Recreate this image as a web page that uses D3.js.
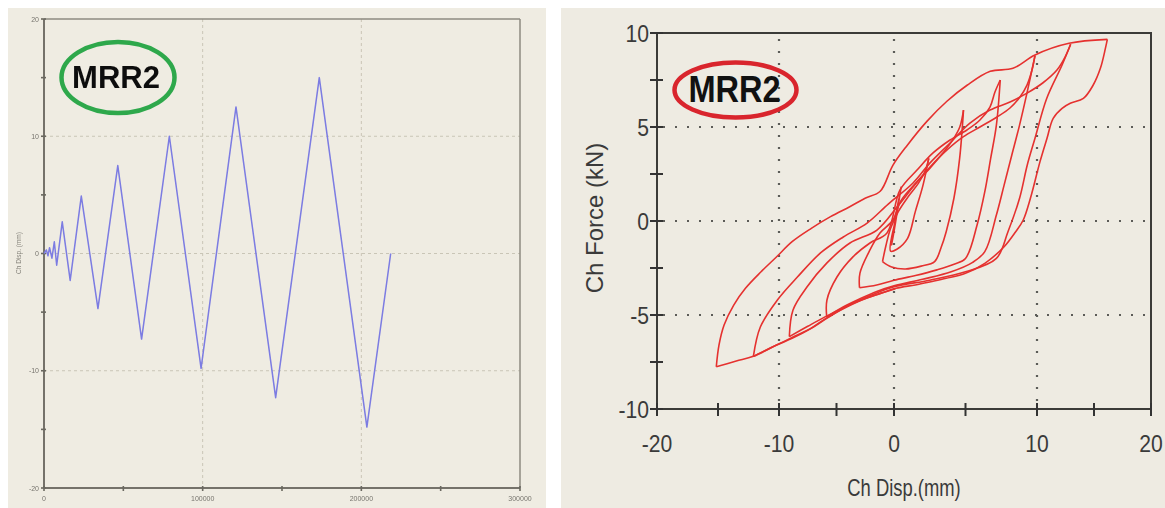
<!DOCTYPE html>
<html>
<head>
<meta charset="utf-8">
<script src="https://cdn.jsdelivr.net/npm/d3@7"></script>
<style>
  body { margin: 0; background: #ffffff; }
  svg { display: block; }
</style>
</head>
<body>
<svg id="chart" width="1165" height="508"></svg>
<script>
// ---------- Left panel: applied displacement history ----------
const historyTime = [0, 1500, 2500, 3500, 5000, 6500, 8000, 11500, 16500, 23500, 34000, 46500,
                     61500, 79000, 99000, 121000, 146000, 173500, 203500, 218500];
const historyDisp = [0, 0.3, -0.2, 0.5, -0.4, 1.0, -1.0, 2.7, -2.3, 4.9, -4.7, 7.5,
                     -7.3, 10.0, -9.8, 12.5, -12.3, 15.0, -14.8, 0];
const historyYTicks = [-20, -10, 0, 10, 20];
const historyYMinor = [-15, -5, 5, 15];
const historyXTicks = [0, 100000, 200000, 300000];
const historyXMinor = [50000, 150000, 250000];
const historyXGrid = [100000, 200000];
const historyYGrid = [-10, 0, 10];

// ---------- Right panel: force vs displacement loops (mm, kN) ----------
const forceXTicks = [-20, -10, 0, 10, 20];
const forceXMinor = [-15, -5, 5, 15];
const forceYTicks = [-10, -5, 0, 5, 10];
const forceYMinor = [-7.5, -2.5, 2.5, 7.5];
const forceXGrid = [-10, 0, 10];
const forceYGrid = [-5, 0, 5];

const branchL1 = [[0,0],[0.3,0.9],[-0.1,-0.6],[0.4,1.4],[0.1,0.2],[-0.2,-1.3],[0.5,1.8],[0.2,0.4],
                  [-0.3,-1.6],[0.2,-1.5],[0.95,-0.92],[1.49,0.5],[2.03,1.91],[2.43,3.33]];
const branchU1 = [[2.43,3.33],[2.2,2.7],[1.7,2.0],[1.0,1.3],[0.3,0.5],[-0.3,-0.4],[-0.7,-1.3],[-1.0,-2.16]];
const branchL2 = [[-1.0,-2.16],[-0.2,-2.45],[0.8,-2.55],[1.9,-2.4],[2.84,-2.16],[3.3,-1.4],[3.65,-0.57],
                  [4.19,1.21],[4.59,3.33],[4.86,5.9]];
const branchU2 = [[4.86,5.9],[4.6,5.0],[4.1,4.3],[3.4,3.6],[2.5,2.8],[1.5,2.0],[0.5,1.1],[-0.09,0.05],
                  [-1.22,-0.64],[-2.09,-1.54],[-2.96,-2.77],[-3.0,-3.55]];
const branchL3 = [[-3.0,-3.55],[-1.5,-3.4],[0,-3.15],[1.5,-2.9],[3.0,-2.6],[4.2,-2.3],[5.0,-1.99],
                  [5.81,-0.21],[6.35,1.56],[6.76,3.33],[7.16,5.1],[7.43,7.5]];
const branchU3 = [[7.43,7.5],[7.06,6.86],[6.71,6.06],[6.01,5.37],[5.1,4.84],[3.92,4.31],[2.73,3.62],
                  [1.61,2.71],[0.42,1.65],[-0.61,-0.64],[-2.09,-1.17],[-3.57,-1.91],[-4.96,-2.98],
                  [-5.83,-4.2],[-5.85,-5.1]];
const branchL4 = [[-5.85,-5.1],[-4.5,-4.6],[-3.0,-4.15],[-1.5,-3.75],[0,-3.45],[2.0,-3.1],[4.0,-2.7],
                  [5.5,-2.2],[6.35,-1.63],[7.16,0.32],[7.7,1.91],[8.24,3.51],[8.78,5.1],[9.32,6.88],[9.86,8.8]];
const branchU4 = [[9.86,8.8],[9.65,8.03],[9.3,7.23],[8.81,6.6],[8.11,6.01],[7.2,5.53],[6.01,5.0],
                  [4.83,4.47],[3.71,3.78],[2.52,2.87],[1.33,1.81],[0.21,0.74],[-1.48,-0.48],
                  [-3.83,-1.17],[-5.83,-2.23],[-7.57,-3.51],[-8.78,-4.73],[-9.1,-6.15]];
const branchL5 = [[-9.1,-6.15],[-7.5,-5.6],[-6.0,-5.1],[-4.0,-4.5],[-2.0,-3.95],[0,-3.5],[2.5,-3.15],
                  [5.0,-2.7],[7.16,-1.99],[7.97,-0.57],[8.78,1.21],[9.32,2.98],[9.86,4.4],[10.85,6.52],
                  [12.2,8.3],[12.95,9.4]];
const branchU5 = [[12.95,9.4],[12.46,8.72],[11.75,8.03],[10.5,7.34],[9.3,6.8],[8.11,6.33],[6.71,5.9],
                  [5.31,5.21],[3.92,4.15],[2.52,3.09],[1.33,2.02],[-0.5,0.9],[-2.34,-0.11],
                  [-4.41,-0.85],[-6.39,-1.7],[-8.4,-2.98],[-10.13,-4.2],[-11.53,-5.64],[-12.1,-7.2]];
const branchL6 = [[-12.1,-7.2],[-10.19,-6.6],[-8.86,-6.24],[-7.19,-5.71],[-5.85,-5.18],[-4.18,-4.56],
                  [-2.84,-4.2],[-1.17,-3.85],[0.14,-3.58],[1.49,-3.4],[2.57,-3.23],[3.65,-3.05],
                  [5.0,-2.78],[6.35,-2.25],[7.7,-1.37],[8.51,-0.57],[9.03,0.04],[9.54,1.21],
                  [10.27,3.17],[10.88,4.4],[11.42,5.46],[12.2,5.99],[12.92,6.26],[14.07,6.52],
                  [14.92,7.22],[15.56,8.12],[16.0,9.18],[16.17,9.66]];
const branchU6 = [[16.17,9.66],[12.81,9.45],[9.86,8.83],[8.32,8.12],[6.73,7.96],[5.11,7.22],[3.7,6.37],
                  [2.3,5.3],[0.92,4.02],[-0.1,2.96],[-1.2,1.58],[-2.51,1.21],[-3.85,0.76],[-5.52,0.23],
                  [-7.19,-0.39],[-8.86,-1.1],[-10.19,-1.9],[-11.47,-2.7],[-12.75,-3.58],[-13.71,-4.47],
                  [-14.5,-5.53],[-14.92,-6.6],[-15.14,-7.75]];
const branchEnd = [[-15.14,-7.75],[-13.5,-7.45],[-12.1,-7.2],[-10.2,-6.6],[-8.86,-6.2],[-7.2,-5.7],
                   [-5.85,-5.15],[-4.2,-4.6],[-2.8,-4.2],[-1.2,-3.85],[0.1,-3.6]];

const loopBranches = [branchL1, branchU1, branchL2, branchU2, branchL3, branchU3, branchL4,
                      branchU4, branchL5, branchU5, branchL6, branchU6, branchEnd];

const FONT = "'Liberation Sans', Arial, sans-serif";
const svg = d3.select("#chart");
const defs = svg.append("defs");
defs.append("filter").attr("id", "soft")
  .attr("x", "-5%").attr("y", "-5%").attr("width", "110%").attr("height", "110%")
  .append("feGaussianBlur").attr("stdDeviation", 0.5);

// text helper with horizontal squeeze
function txt(g, x, y, s, size, opts = {}) {
  const sx = opts.sx ?? 1;
  const rot = opts.rotate ? ` rotate(${opts.rotate})` : "";
  return g.append("text")
    .attr("transform", `translate(${x},${y})${rot} scale(${sx},1)`)
    .attr("font-family", FONT)
    .attr("font-size", size)
    .attr("font-weight", opts.bold ? "bold" : "normal")
    .attr("text-anchor", opts.anchor || "middle")
    .attr("fill", opts.fill || "#333")
    .text(s);
}

// ================= Left panel =================
const left = svg.append("g");
left.append("rect").attr("x", 8).attr("y", 8).attr("width", 538).attr("height", 500).attr("fill", "#efece2");
const lc = left.append("g").attr("filter", "url(#soft)");

const xH = d3.scaleLinear().domain([0, 300000]).range([44, 520]);
const yH = d3.scaleLinear().domain([-20, 20]).range([488, 19]);

historyXGrid.forEach(v => lc.append("line")
  .attr("x1", xH(v)).attr("x2", xH(v)).attr("y1", yH(20)).attr("y2", yH(-20))
  .attr("stroke", "#c9c5b6").attr("stroke-width", 1).attr("stroke-dasharray", "3,3"));
historyYGrid.forEach(v => lc.append("line")
  .attr("x1", xH(0)).attr("x2", xH(300000)).attr("y1", yH(v)).attr("y2", yH(v))
  .attr("stroke", "#c9c5b6").attr("stroke-width", 1).attr("stroke-dasharray", "3,3"));

// frame
lc.append("line").attr("x1", xH(0)).attr("x2", xH(300000)).attr("y1", yH(20)).attr("y2", yH(20))
  .attr("stroke", "#8e8b82").attr("stroke-width", 1.5);
lc.append("line").attr("x1", xH(300000)).attr("x2", xH(300000)).attr("y1", yH(20)).attr("y2", yH(-20))
  .attr("stroke", "#8e8b82").attr("stroke-width", 1.5);
lc.append("line").attr("x1", xH(0)).attr("x2", xH(0)).attr("y1", yH(20)).attr("y2", yH(-20))
  .attr("stroke", "#74726a").attr("stroke-width", 2);
lc.append("line").attr("x1", xH(0)).attr("x2", xH(300000)).attr("y1", yH(-20)).attr("y2", yH(-20))
  .attr("stroke", "#74726a").attr("stroke-width", 2);

historyYTicks.concat(historyYMinor).forEach(v => lc.append("line")
  .attr("x1", xH(0) - 3).attr("x2", xH(0) + 2).attr("y1", yH(v)).attr("y2", yH(v))
  .attr("stroke", "#6a6860").attr("stroke-width", 1.6));
historyXTicks.concat(historyXMinor).forEach(v => lc.append("line")
  .attr("x1", xH(v)).attr("x2", xH(v)).attr("y1", yH(-20) - 2).attr("y2", yH(-20) + 3)
  .attr("stroke", "#6a6860").attr("stroke-width", 1.6));

historyYTicks.forEach(v => txt(lc, xH(0) - 5, yH(v) + 2.5, String(v), 7, { anchor: "end", fill: "#77756e" }));
historyXTicks.forEach(v => txt(lc, xH(v), yH(-20) + 13, String(v), 7, { fill: "#77756e" }));
txt(lc, 21, 253, "Ch Disp. (mm)", 6.5, { rotate: -90, fill: "#85837b" });

lc.append("path")
  .datum(historyTime.map((t, i) => [t, historyDisp[i]]))
  .attr("d", d3.line().x(d => xH(d[0])).y(d => yH(d[1])))
  .attr("fill", "none").attr("stroke", "#7b7be2").attr("stroke-width", 1.5)
  .attr("stroke-linejoin", "round");

lc.append("ellipse").attr("cx", 118).attr("cy", 77.5).attr("rx", 56.5).attr("ry", 35.5)
  .attr("fill", "none").attr("stroke", "#2ea84c").attr("stroke-width", 4.5);
txt(lc, 116, 88, "MRR2", 32, { bold: true, sx: 0.97, fill: "#111" });

// ================= Right panel =================
const right = svg.append("g");
right.append("rect").attr("x", 561).attr("y", 8).attr("width", 604).attr("height", 500).attr("fill", "#eeebe2");

const xF = d3.scaleLinear().domain(forceXTicks).range([657, 779, 894, 1037, 1151]);
const yF = d3.scaleLinear().domain([-10, 10]).range([409, 33]);

forceXGrid.forEach(v => right.append("line")
  .attr("x1", xF(v)).attr("x2", xF(v)).attr("y1", yF(10) + 6).attr("y2", yF(-10))
  .attr("stroke", "#5c5c58").attr("stroke-width", 2.2).attr("stroke-dasharray", "2,10"));
forceYGrid.forEach(v => right.append("line")
  .attr("x1", xF(-20) + 6).attr("x2", xF(20)).attr("y1", yF(v)).attr("y2", yF(v))
  .attr("stroke", "#5c5c58").attr("stroke-width", 2.2).attr("stroke-dasharray", "2,10"));

// loops
const loopLine = d3.line().x(d => xF(d[0])).y(d => yF(d[1])).curve(d3.curveCatmullRom.alpha(0.5));
right.append("g").selectAll("path").data(loopBranches).join("path")
  .attr("d", loopLine)
  .attr("fill", "none").attr("stroke", "#e5312f").attr("stroke-width", 1.6)
  .attr("stroke-linejoin", "round");

// frame and axes
right.append("rect").attr("x", xF(-20)).attr("y", yF(10))
  .attr("width", xF(20) - xF(-20)).attr("height", yF(-10) - yF(10))
  .attr("fill", "none").attr("stroke", "#3b3b38").attr("stroke-width", 2);
forceXTicks.concat(forceXMinor).forEach(v => right.append("line")
  .attr("x1", xF(v)).attr("x2", xF(v)).attr("y1", yF(-10) - 6).attr("y2", yF(-10) + 7)
  .attr("stroke", "#333").attr("stroke-width", 2));
forceYTicks.concat(forceYMinor).forEach(v => right.append("line")
  .attr("x1", xF(-20) - 7).attr("x2", xF(-20) + 6).attr("y1", yF(v)).attr("y2", yF(v))
  .attr("stroke", "#333").attr("stroke-width", 2));

forceXTicks.forEach(v => txt(right, xF(v), 452, String(v), 24, { sx: 0.88, fill: "#3a3a3a" }));
forceYTicks.forEach(v => txt(right, 649, yF(v) + 9, String(v), 24, { anchor: "end", sx: 0.88, fill: "#3a3a3a" }));
txt(right, 904, 496, "Ch Disp.(mm)", 23, { sx: 0.8, fill: "#3a3a3a" });
txt(right, 603, 218, "Ch Force (kN)", 24, { rotate: -90, fill: "#3a3a3a" });

right.append("ellipse").attr("cx", 735.5).attr("cy", 90).attr("rx", 61).attr("ry", 27.5)
  .attr("fill", "none").attr("stroke", "#d9252d").attr("stroke-width", 4.5);
txt(right, 734.5, 102, "MRR2", 37, { bold: true, sx: 0.88, fill: "#111" });
</script>
</body>
</html>
